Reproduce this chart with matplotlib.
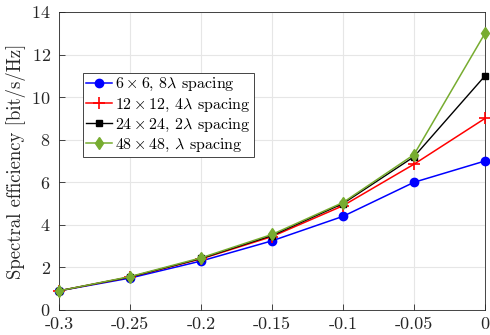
import matplotlib
matplotlib.use("Agg")
import matplotlib.pyplot as plt
import numpy as np

plt.rcParams['font.family'] = 'cmr10'
plt.rcParams['mathtext.fontset'] = 'cm'
plt.rcParams['axes.formatter.use_mathtext'] = True

# data
x = [-0.3, -0.25, -0.2, -0.15, -0.1, -0.05, 0]
se_6 = [0.9, 1.5, 2.3, 3.25, 4.4, 6.0, 7.0]
se_12 = [0.9, 1.55, 2.4, 3.45, 4.9, 6.85, 9.0]
se_24 = [0.9, 1.55, 2.42, 3.5, 5.0, 7.2, 11.0]
se_48 = [0.9, 1.57, 2.45, 3.55, 5.05, 7.3, 13.0]
labels = [r'$6\times6$, $8\lambda$ spacing', r'$12\times12$, $4\lambda$ spacing',
          r'$24\times24$, $2\lambda$ spacing', r'$48\times48$, $\lambda$ spacing']
xticks = [-0.3, -0.25, -0.2, -0.15, -0.1, -0.05, 0]
xtick_labels = ['-0.3', '-0.25', '-0.2', '-0.15', '-0.1', '-0.05', '0']
yticks = [0, 2, 4, 6, 8, 10, 12, 14]

fig = plt.figure(figsize=(4.9, 3.35), dpi=100)
ax = fig.add_axes([59/490, 25/335, 426/490, 298/335])

ax.plot(x, se_6, '-o', color='#0000ff', lw=1.1, ms=6, label=labels[0], clip_on=False, zorder=3)
ax.plot(x, se_12, '-+', color='#ff0000', lw=1.1, ms=9, mew=1.2, label=labels[1], clip_on=False, zorder=3)
ax.plot(x, se_24, '-s', color='#000000', lw=1.0, ms=4.5, label=labels[2], clip_on=False, zorder=3)
ax.plot(x, se_48, '-d', color='#77ac30', lw=1.1, ms=6, label=labels[3], clip_on=False, zorder=3)

ax.set_xlim(-0.3, 0)
ax.set_ylim(0, 14)
ax.set_xticks(xticks)
ax.set_xticklabels(xtick_labels)
ax.set_yticks(yticks)
ax.set_ylabel('Spectral efficiency [bit/s/Hz]', fontsize=13.5, color='#262626', labelpad=4)
ax.grid(True, color='#e6e6e6', lw=0.8)
ax.set_axisbelow(True)
ax.tick_params(direction='in', length=4, width=0.6, colors='#262626', labelsize=13, top=False, right=False)
ax.tick_params(axis='x', pad=5)
ax.tick_params(axis='y', pad=6)
for s in ax.spines.values():
    s.set_color('#262626')
    s.set_linewidth(0.6)

leg = ax.legend(loc='upper left', bbox_to_anchor=(0.057, 0.795), fontsize=11.5,
                frameon=True, fancybox=False, edgecolor='#262626', framealpha=1,
                borderpad=0.2, labelspacing=0.2, handlelength=1.6, handletextpad=0.2,
                borderaxespad=0)
leg.get_frame().set_linewidth(0.6)

fig.savefig('out.png', dpi=100)
